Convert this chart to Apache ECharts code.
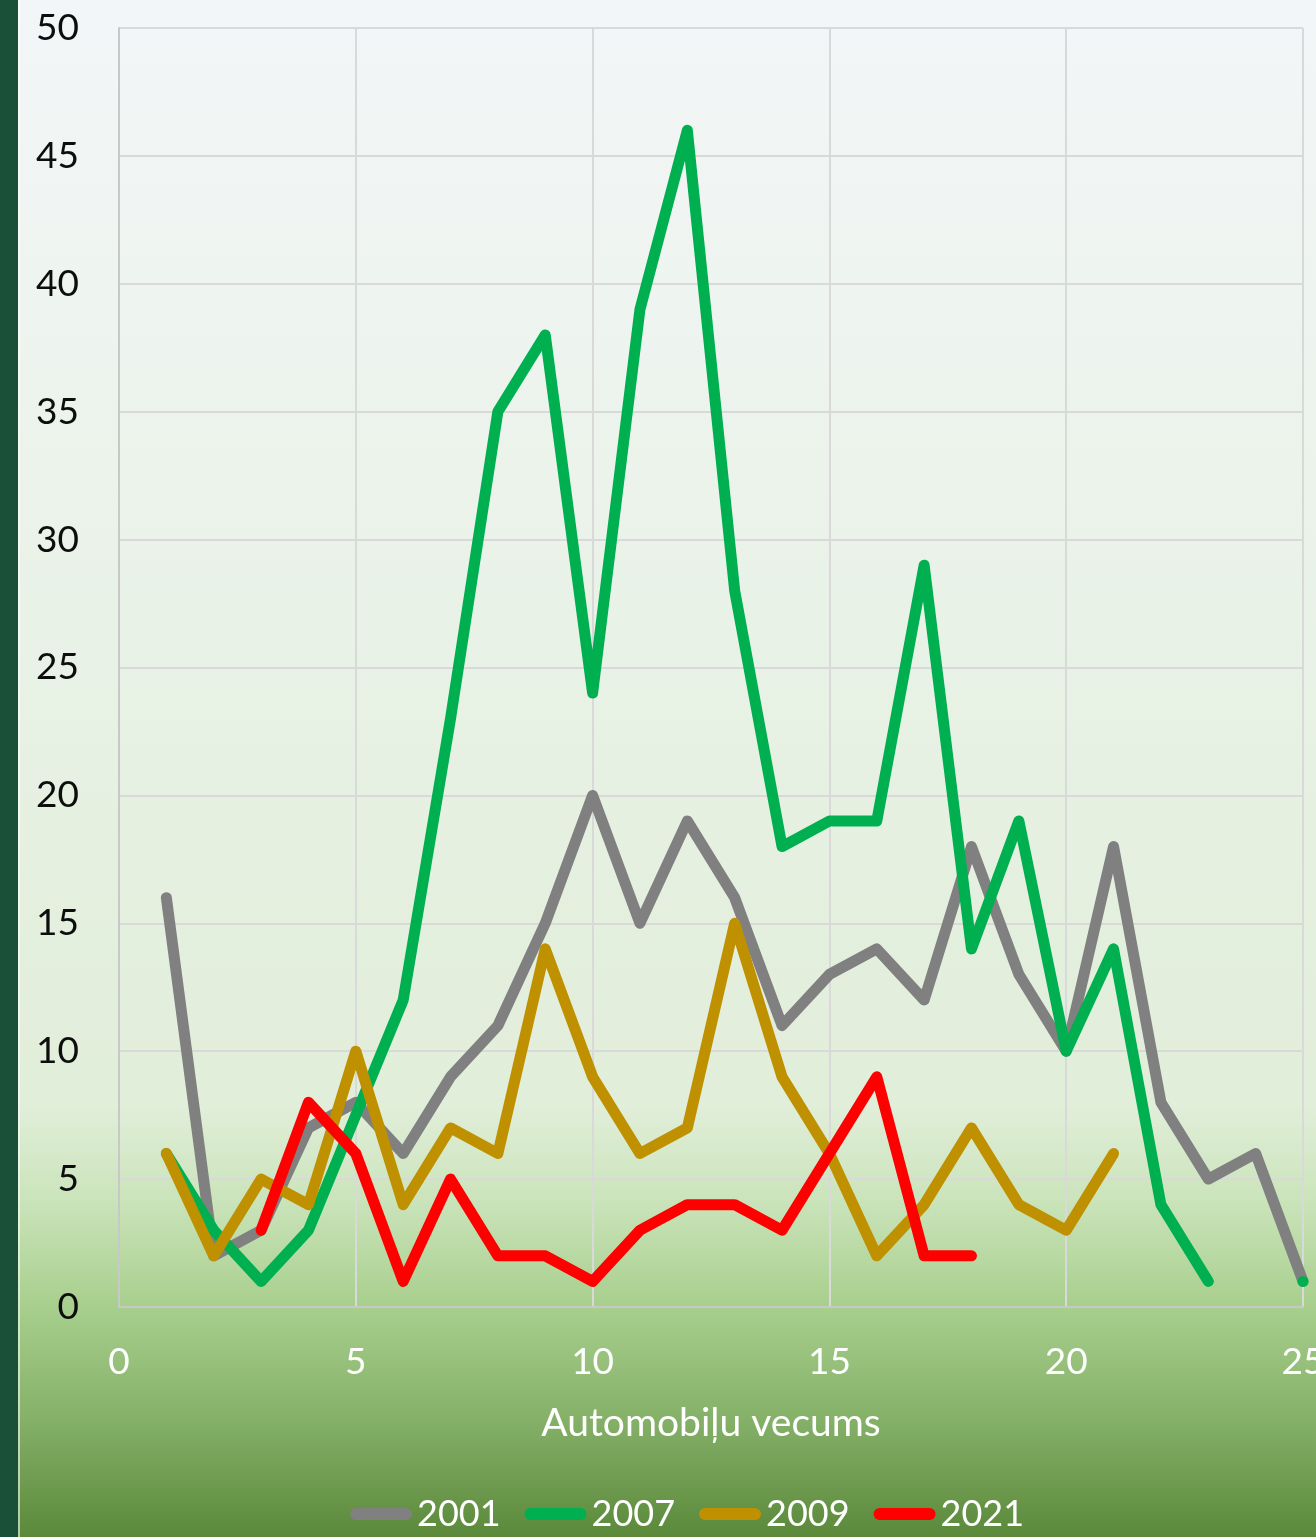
<!DOCTYPE html>
<html>
<head>
<meta charset="utf-8">
<style>
  html, body { margin: 0; padding: 0; width: 1316px; height: 1537px; overflow: hidden; }
  #chart { position: absolute; left: 0; top: 0; width: 1316px; height: 1537px; }
</style>
<script src="https://cdn.jsdelivr.net/npm/echarts@6/dist/echarts.min.js"></script>
</head>
<body>
<div id="chart"></div>
<script>
// Vehicle age (years) on the x axis
const ages = [1, 2, 3, 4, 5, 6, 7, 8, 9, 10, 11, 12, 13, 14, 15, 16, 17, 18, 19, 20, 21, 22, 23, 24, 25];

// Counts per vehicle age for each year
const y2001 = [16, 2, 3, 7, 8, 6, 9, 11, 15, 20, 15, 19, 16, 11, 13, 14, 12, 18, 13, 10, 18, 8, 5, 6, 1];
const y2007 = [6, 3, 1, 3, 7.5, 12, 23, 35, 38, 24, 39, 46, 28, 18, 19, 19, 29, 14, 19, 10, 14, 4, 1, null, 1];
const y2009 = [6, 2, 5, 4, 10, 4, 7, 6, 14, 9, 6, 7, 15, 9, 6, 2, 4, 7, 4, 3, 6];
const y2021 = [null, null, 3, 8, 6, 1, 5, 2, 2, 1, 3, 4, 4, 3, 6, 9, 2, 2];

const seriesNames = ['2001', '2007', '2009', '2021'];
const seriesColors = ['#808080', '#00b050', '#bf9000', '#ff0000'];
const axisTitle = 'Automobiļu vecums';

const FONT = 'Lato, "Open Sans", sans-serif';

function pairs(values) {
  const out = [];
  values.forEach((v, i) => {
    if (v === null) { out.push([ages[i], null]); return; }
    const prevNull = i === 0 || values[i - 1] === null;
    const nextNull = i === values.length - 1 || values[i + 1] === null;
    // a point with no neighbours on either side is shown as a dot
    if (prevNull && nextNull && i > 0) {
      out.push({ value: [ages[i], v], symbol: 'circle', symbolSize: 11 });
    } else {
      out.push([ages[i], v]);
    }
  });
  return out;
}

const allValues = [y2001, y2007, y2009, y2021];

const el = document.getElementById('chart');
const chart = echarts.init(el, null, { renderer: 'canvas', width: 1316, height: 1537 });

chart.setOption({
  backgroundColor: {
    type: 'linear', x: 0, y: 0, x2: 0, y2: 1,
    colorStops: [
      { offset: 0.00, color: '#f3f6f8' },
      { offset: 0.40, color: '#e9f2e7' },
      { offset: 0.72, color: '#e1eed9' },
      { offset: 0.78, color: '#cbe4bb' },
      { offset: 0.85, color: '#a8cf8d' },
      { offset: 0.92, color: '#86b26a' },
      { offset: 1.00, color: '#5b893a' }
    ]
  },
  animation: false,
  graphic: [
    { type: 'rect', left: 0, top: 0, shape: { width: 18, height: 1537 }, style: { fill: '#1b5038' }, z: 100 },
    { type: 'rect', left: 18, top: 0, shape: { width: 2, height: 1537 }, style: { fill: 'rgba(255,255,255,0.55)' }, z: 100 }
  ],
  grid: { left: 119, width: 1184, top: 28, height: 1279, containLabel: false, outerBoundsMode: 'none' },
  xAxis: {
    type: 'value', min: 0, max: 25, interval: 5,
    name: axisTitle, nameLocation: 'middle', nameGap: 97,
    nameTextStyle: { color: '#ffffff', fontSize: 39, fontFamily: FONT },
    axisLine: { show: true, lineStyle: { color: '#c8c8c8', width: 2 } },
    axisTick: { show: false },
    splitLine: { show: true, lineStyle: { color: '#d9d9d9', width: 2 } },
    axisLabel: { color: '#ffffff', fontSize: 37, fontFamily: FONT, margin: 37 }
  },
  yAxis: {
    type: 'value', min: 0, max: 50, interval: 5,
    axisLine: { show: true, lineStyle: { color: '#c8c8c8', width: 2 } },
    axisTick: { show: false },
    splitLine: { show: true, lineStyle: { color: '#d9d9d9', width: 2 } },
    axisLabel: { color: '#0d0d0d', fontSize: 37, fontFamily: FONT, margin: 40 }
  },
  legend: {
    left: 345, top: 1491,
    itemWidth: 62, itemHeight: 13, itemGap: 24,
    icon: 'path://M6,0 L56,0 A6,6 0 0 1 56,12 L6,12 A6,6 0 0 1 6,0 Z',
    textStyle: { color: '#ffffff', fontSize: 36, fontFamily: FONT },
    data: seriesNames
  },
  series: seriesNames.map((name, k) => ({
    name: name,
    type: 'line',
    data: pairs(allValues[k]),
    symbol: 'none',
    showSymbol: true,
    connectNulls: false,
    clip: true,
    color: seriesColors[k],
    itemStyle: { color: seriesColors[k] },
    lineStyle: { color: seriesColors[k], width: 11, cap: 'round', join: 'round' },
    z: 2 + k
  }))
});
</script>
</body>
</html>
